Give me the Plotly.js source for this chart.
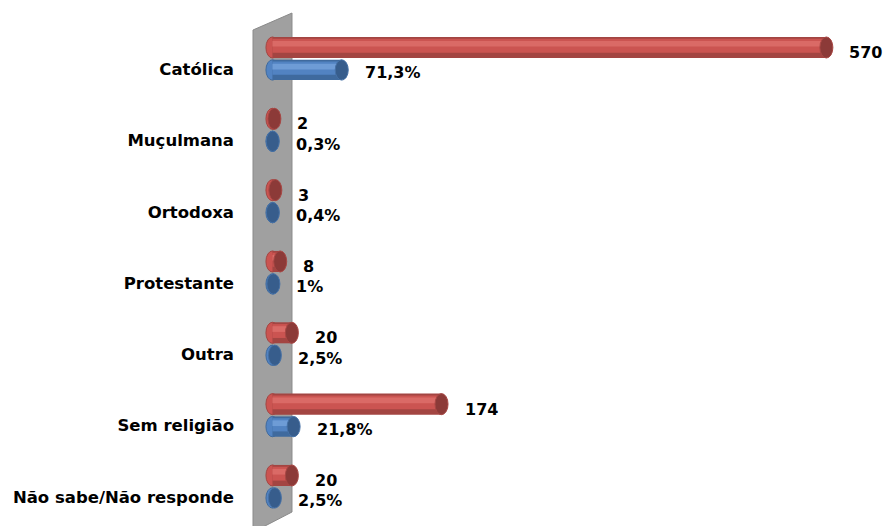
<!DOCTYPE html>
<html>
<head>
<meta charset="utf-8">
<script src="https://cdn.plot.ly/plotly-3.0.1.min.js"></script>
<style>html,body{margin:0;padding:0;background:#fff;}#chart{width:884px;height:526px;}</style>
</head>
<body>
<div id="chart"></div>
<script>
const categories = ['Católica','Muçulmana','Ortodoxa','Protestante','Outra','Sem religião','Não sabe/Não responde'];
const counts = [570, 2, 3, 8, 20, 174, 20];
const percents = [71.3, 0.3, 0.4, 1, 2.5, 21.8, 2.5];
const countLabels = ['570','2','3','8','20','174','20'];
const percentLabels = ['71,3%','0,3%','0,4%','1%','2,5%','21,8%','2,5%'];

const idx = categories.map((c, i) => i);
const FONT = 'DejaVu Sans, sans-serif';

// series geometry (category units)
const series = [
  {vals: counts, labels: countLabels, off: -0.45, w: 0.295, edge: '#A34542', body: '#CB5451', hi: '#DA6A66', cap: '#8C3A38', capLine: '#A84744', lblShift: -5},
  {vals: percents, labels: percentLabels, off: -0.13, w: 0.285, edge: '#3F6A9E', body: '#5283C2', hi: '#6E9CD6', cap: '#375D8C', capLine: '#4671A6', lblShift: -3}
];

const traces = [];
const shapes = [];
const annotations = [];

// back wall (decoration)
shapes.push({type: 'path', xref: 'paper', yref: 'paper', layer: 'below',
  path: 'M 0 0.9647 L 0.0628 0.998 L 0.0628 0.0196 L 0 -0.02 Z',
  fillcolor: '#A0A0A0', line: {color: '#8A8A8A', width: 1}});

series.forEach(s => {
  // darker edge body
  traces.push({type: 'bar', orientation: 'h', y: idx, x: s.vals, base: 0,
    offset: s.off, width: s.w, marker: {color: s.edge, line: {width: 0}}, hoverinfo: 'skip'});
  // main body
  traces.push({type: 'bar', orientation: 'h', y: idx, x: s.vals, base: 0,
    offset: s.off + 0.025, width: s.w - 0.1, marker: {color: s.body, line: {width: 0}}, hoverinfo: 'skip'});
  // highlight stripe
  traces.push({type: 'bar', orientation: 'h', y: idx, x: s.vals, base: 0,
    offset: s.off + 0.055, width: 0.08, marker: {color: s.hi, line: {width: 0}}, hoverinfo: 'skip'});

  s.vals.forEach((v, i) => {
    // rounded left end
    shapes.push({type: 'circle', xref: 'x', yref: 'y', layer: 'below',
      xsizemode: 'pixel', xanchor: 0, x0: -6.5, x1: 6.5,
      y0: i + s.off, y1: i + s.off + s.w,
      fillcolor: s.body, line: {color: s.edge, width: 1}});
    // dark right end cap
    shapes.push({type: 'circle', xref: 'x', yref: 'y', layer: 'above',
      xsizemode: 'pixel', xanchor: v, x0: -6.5, x1: 6.5,
      y0: i + s.off, y1: i + s.off + s.w,
      fillcolor: s.cap, line: {color: s.capLine, width: 1}});
    annotations.push({x: v, y: i + s.off + s.w / 2, xref: 'x', yref: 'y',
      text: '<b>' + s.labels[i] + '</b>', showarrow: false,
      xanchor: 'left', yanchor: 'middle', xshift: 21, yshift: s.lblShift,
      font: {family: FONT, size: 16, color: '#000'}});
  });
});

const layout = {
  width: 884, height: 526,
  margin: {l: 253, r: 10, t: 12, b: 4},
  paper_bgcolor: '#fff', plot_bgcolor: 'rgba(0,0,0,0)',
  showlegend: false,
  barmode: 'overlay',
  xaxis: {range: [-20, 619], visible: false, fixedrange: true},
  yaxis: {type: 'linear', range: [6.35, -0.8], tickvals: idx,
    ticktext: categories.map(c => '<b>' + c + '</b>'),
    showgrid: false, zeroline: false, showline: false, ticks: '',
    ticklabelstandoff: 18,
    tickfont: {family: FONT, size: 16.5, color: '#000'}},
  shapes: shapes,
  annotations: annotations
};

Plotly.newPlot('chart', traces, layout, {displayModeBar: false, staticPlot: true});
</script>
</body>
</html>
